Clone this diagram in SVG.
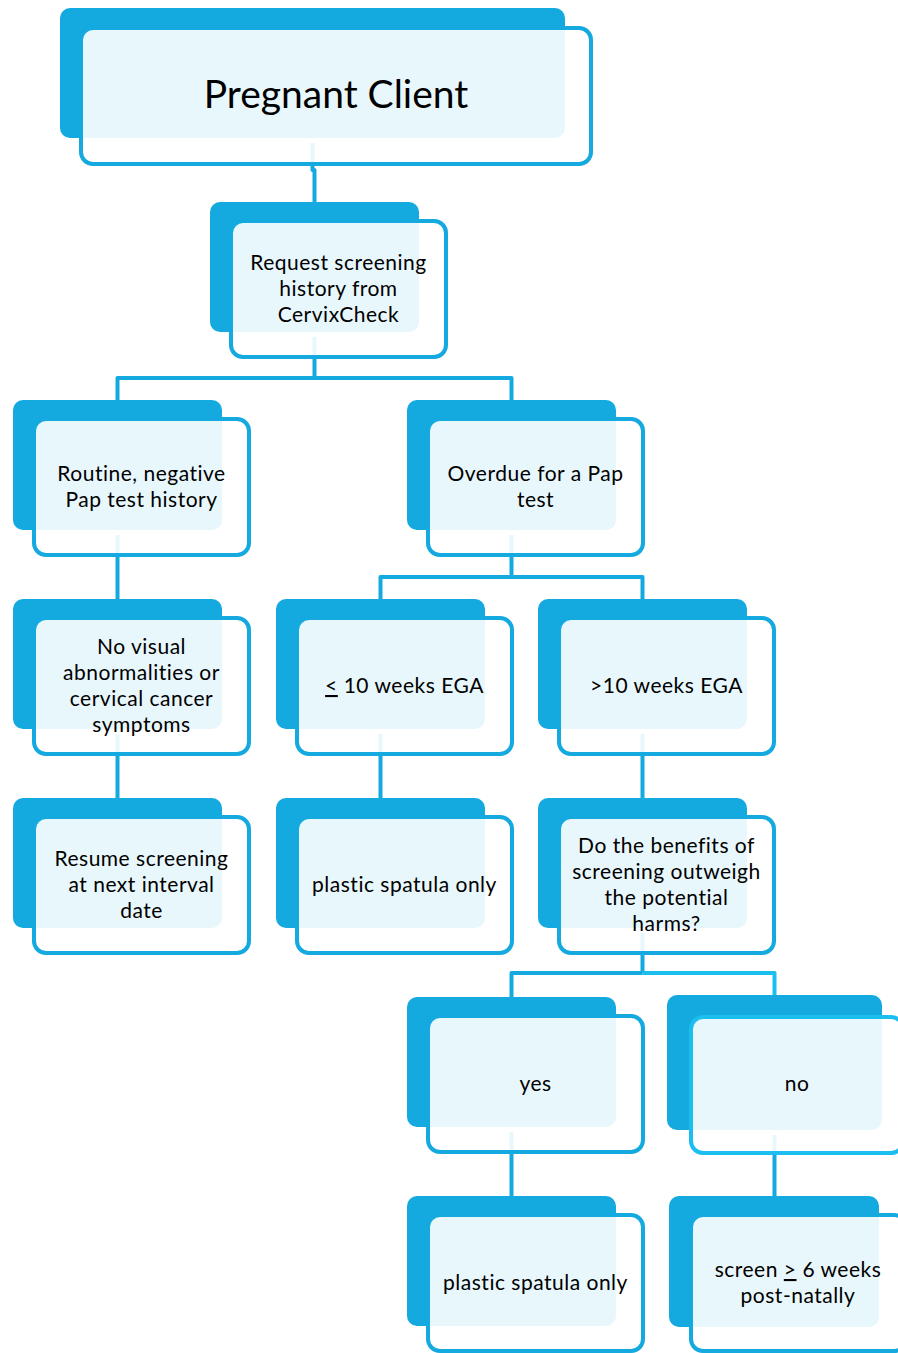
<svg xmlns="http://www.w3.org/2000/svg" width="898" height="1353" viewBox="0 0 898 1353">
<style>
.dk{fill:#14A9DF}
.ol{fill:#fff;fill-opacity:0.9;stroke:#14A9DF;stroke-width:4}
.olc{fill:#fff;fill-opacity:0.9;stroke:#1CBDEF;stroke-width:4}
.cn{fill:none;stroke:#14A9DF;stroke-width:4;stroke-linejoin:round}
.cnc{fill:none;stroke:#1CBDEF;stroke-width:4;stroke-linejoin:round}
text{font-family:Lato,"Liberation Sans",sans-serif;font-size:21px;letter-spacing:0.5px;fill:#000;text-anchor:middle}
.big{font-size:39px;letter-spacing:0}
.u{text-decoration:underline}
</style>
<rect width="898" height="1353" fill="#fff"/>
<g id="connectors">
<path class="cn" d="M312.5,143 V170 H314.5 V202"/>
<path class="cn" d="M314.5,337 V378"/>
<path class="cn" d="M117.5,400 V378 H511.5 V400"/>
<path class="cn" d="M117.5,535 V599"/>
<path class="cn" d="M511.5,535 V577"/>
<path class="cn" d="M380.5,599 V577 H642.5 V599"/>
<path class="cn" d="M117.5,734 V798"/>
<path class="cn" d="M380.5,734 V798"/>
<path class="cn" d="M642.5,734 V798"/>
<path class="cn" d="M642.5,933 V973"/>
<path class="cn" d="M511.5,997 V973 H642.5"/>
<path class="cnc" d="M642.5,973 H774.5 V995"/>
<path class="cn" d="M511.5,1132 V1196"/>
<path class="cn" d="M774.5,1135 V1196"/>
</g>
<g id="n1">
<rect class="dk" x="60" y="8" width="505" height="130" rx="10"/>
<rect class="ol" x="81" y="28" width="510" height="136" rx="12"/>
<text class="big" x="336" y="108">Pregnant Client</text>
</g>
<g id="n2">
<rect class="dk" x="210" y="202" width="209" height="130" rx="10"/>
<rect class="ol" x="231" y="221" width="215" height="136" rx="12"/>
<text x="338.5" y="270">Request screening</text>
<text x="338.5" y="296">history from</text>
<text x="338.5" y="322">CervixCheck</text>
</g>
<g id="n3">
<rect class="dk" x="13" y="400" width="209" height="130" rx="10"/>
<rect class="ol" x="34" y="419" width="215" height="136" rx="12"/>
<text x="141.5" y="481">Routine, negative</text>
<text x="141.5" y="507">Pap test history</text>
</g>
<g id="n4">
<rect class="dk" x="407" y="400" width="209" height="130" rx="10"/>
<rect class="ol" x="428" y="419" width="215" height="136" rx="12"/>
<text x="535.5" y="481">Overdue for a Pap</text>
<text x="535.5" y="507">test</text>
</g>
<g id="n5">
<rect class="dk" x="13" y="599" width="209" height="130" rx="10"/>
<rect class="ol" x="34" y="618" width="215" height="136" rx="12"/>
<text x="141.5" y="654">No visual</text>
<text x="141.5" y="680">abnormalities or</text>
<text x="141.5" y="706">cervical cancer</text>
<text x="141.5" y="732">symptoms</text>
</g>
<g id="n6">
<rect class="dk" x="276" y="599" width="209" height="130" rx="10"/>
<rect class="ol" x="297" y="618" width="215" height="136" rx="12"/>
<text x="404.5" y="693"><tspan class="u">&lt;</tspan> 10 weeks EGA</text>
</g>
<g id="n7">
<rect class="dk" x="538" y="599" width="209" height="130" rx="10"/>
<rect class="ol" x="559" y="618" width="215" height="136" rx="12"/>
<text x="666.5" y="693">&gt;10 weeks EGA</text>
</g>
<g id="n8">
<rect class="dk" x="13" y="798" width="209" height="130" rx="10"/>
<rect class="ol" x="34" y="817" width="215" height="136" rx="12"/>
<text x="141.5" y="866">Resume screening</text>
<text x="141.5" y="892">at next interval</text>
<text x="141.5" y="918">date</text>
</g>
<g id="n9">
<rect class="dk" x="276" y="798" width="209" height="130" rx="10"/>
<rect class="ol" x="297" y="817" width="215" height="136" rx="12"/>
<text x="404.5" y="892">plastic spatula only</text>
</g>
<g id="n10">
<rect class="dk" x="538" y="798" width="209" height="130" rx="10"/>
<rect class="ol" x="559" y="817" width="215" height="136" rx="12"/>
<text x="666.5" y="853">Do the benefits of</text>
<text x="666.5" y="879">screening outweigh</text>
<text x="666.5" y="905">the potential</text>
<text x="666.5" y="931">harms?</text>
</g>
<g id="n11">
<rect class="dk" x="407" y="997" width="209" height="130" rx="10"/>
<rect class="ol" x="428" y="1016" width="215" height="136" rx="12"/>
<text x="535.5" y="1091">yes</text>
</g>
<g id="n12">
<rect class="dk" x="667" y="995" width="215" height="135" rx="10"/>
<rect class="olc" x="691" y="1017" width="212" height="136" rx="12"/>
<text x="797" y="1091">no</text>
</g>
<g id="n13">
<rect class="dk" x="407" y="1196" width="209" height="130" rx="10"/>
<rect class="ol" x="428" y="1215" width="215" height="136" rx="12"/>
<text x="535.5" y="1290">plastic spatula only</text>
</g>
<g id="n14">
<rect class="dk" x="669" y="1196" width="210" height="131" rx="10"/>
<rect class="ol" x="691" y="1215" width="215" height="136" rx="12"/>
<text x="798" y="1277">screen <tspan class="u">&gt;</tspan> 6 weeks</text>
<text x="798" y="1303">post-natally</text>
</g>
</svg>
